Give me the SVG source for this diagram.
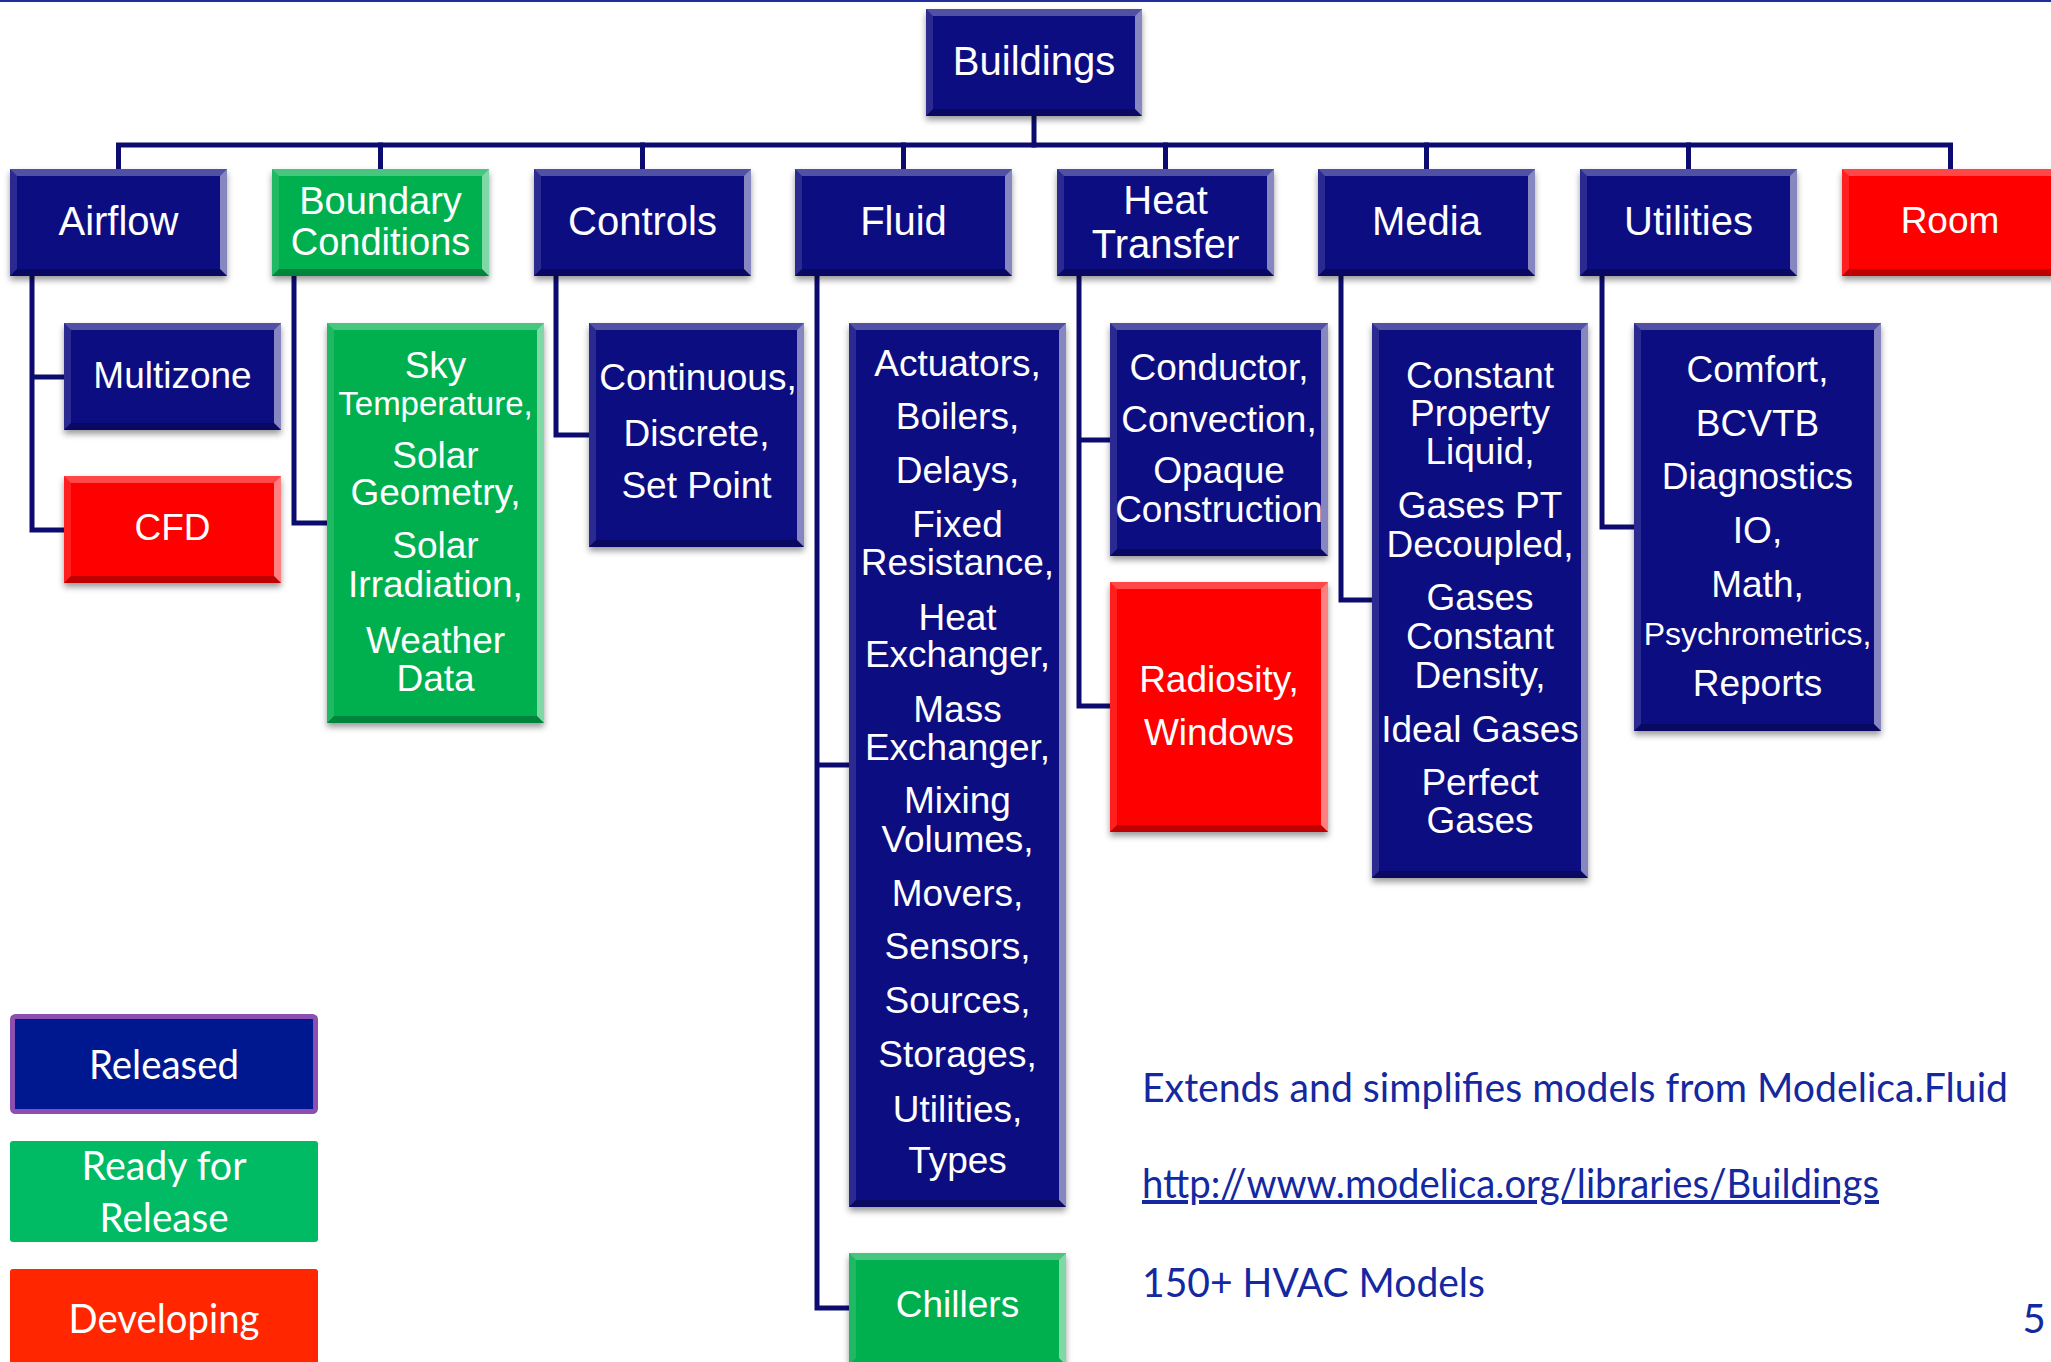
<svg xmlns="http://www.w3.org/2000/svg" width="2051" height="1362" viewBox="0 0 2051 1362">
  <style>
    .nv { fill: #0b0b82; }
    .gr { fill: #00b050; }
    .rd { fill: #ff0000; }
    .bt { fill: #ffffff; opacity: 0.28; }
    .bl { fill: #ffffff; opacity: 0.12; }
    .br { fill: #ffffff; opacity: 0.5; }
    .bb { fill: #000000; opacity: 0.25; }
    .lbl { font-family: "Liberation Sans", Arial, sans-serif; fill: #ffffff; text-anchor: middle; }
    .f40 { font-size: 40px; }
    .f38 { font-size: 38px; }
    .f37 { font-size: 37px; }
    .f33 { font-size: 33px; }
    .f32 { font-size: 32px; }
    .wire { fill: none; stroke: #0c0c70; stroke-width: 5; stroke-linejoin: miter; stroke-linecap: square; }
    .gill { font-family: Lato, "Open Sans", sans-serif; }
    .leg { fill: #ffffff; text-anchor: middle; font-size: 40px; }
    .note { fill: #1428a0; font-size: 40px; }
  </style>
  <defs>
    <filter id="sh" x="-10%" y="-10%" width="125%" height="130%">
      <feDropShadow dx="0" dy="4" stdDeviation="3" flood-color="#000000" flood-opacity="0.4"/>
    </filter>
    <!-- bevel overlay for the standard 217x107 box -->
    <g id="bev">
      <polygon class="bt" points="0,0 217,0 210,7 7,7"/>
      <polygon class="bl" points="0,0 7,7 7,100 0,107"/>
      <polygon class="br" points="217,0 217,107 210,100 210,7"/>
      <polygon class="bb" points="0,107 7,100 210,100 217,107"/>
    </g>
  </defs>

  <rect width="2051" height="1362" fill="#ffffff"/>
  <rect x="0" y="0" width="2051" height="2" fill="#1f2f9f"/>

  <!-- connectors -->
  <g id="connectors">
    <path class="wire" d="M1034,116 V145"/>
    <path class="wire" d="M118.5,169 V145 H1950.5 V169"/>
    <path class="wire" d="M380.5,145 V169 M642.5,145 V169 M903.5,145 V169 M1165.5,145 V169 M1426.5,145 V169 M1688.5,145 V169"/>
    <path class="wire" d="M32,276 V530 H64 M32,377 H64"/>
    <path class="wire" d="M294,276 V523 H327"/>
    <path class="wire" d="M556,276 V435 H589"/>
    <path class="wire" d="M817,276 V1308 H849 M817,765 H849"/>
    <path class="wire" d="M1079,276 V706 H1110 M1079,440 H1110"/>
    <path class="wire" d="M1341,276 V600 H1372"/>
    <path class="wire" d="M1602,276 V527 H1634"/>
  </g>

  <!-- root -->
  <g id="buildings" transform="translate(926,9)">
    <rect class="nv" width="216" height="107" filter="url(#sh)"/>
    <polygon class="bt" points="0,0 216,0 209,7 7,7"/>
    <polygon class="bl" points="0,0 7,7 7,100 0,107"/>
    <polygon class="br" points="216,0 216,107 209,100 209,7"/>
    <polygon class="bb" points="0,107 7,100 209,100 216,107"/>
    <text class="lbl f40" x="108" y="66">Buildings</text>
  </g>

  <!-- first level packages -->
  <g id="airflow" transform="translate(10,169)">
    <rect class="nv" width="217" height="107" filter="url(#sh)"/>
    <use href="#bev"/>
    <text class="lbl f40" x="108.5" y="66">Airflow</text>
  </g>
  <g id="boundary-conditions" transform="translate(272,169)">
    <rect class="gr" width="217" height="107" filter="url(#sh)"/>
    <use href="#bev"/>
    <text class="lbl f38" x="108.5" y="45">Boundary</text>
    <text class="lbl f38" x="108.5" y="86">Conditions</text>
  </g>
  <g id="controls" transform="translate(534,169)">
    <rect class="nv" width="217" height="107" filter="url(#sh)"/>
    <use href="#bev"/>
    <text class="lbl f40" x="108.5" y="66">Controls</text>
  </g>
  <g id="fluid" transform="translate(795,169)">
    <rect class="nv" width="217" height="107" filter="url(#sh)"/>
    <use href="#bev"/>
    <text class="lbl f40" x="108.5" y="66">Fluid</text>
  </g>
  <g id="heat-transfer" transform="translate(1057,169)">
    <rect class="nv" width="217" height="107" filter="url(#sh)"/>
    <use href="#bev"/>
    <text class="lbl f40" x="108.5" y="45">Heat</text>
    <text class="lbl f40" x="108.5" y="89">Transfer</text>
  </g>
  <g id="media" transform="translate(1318,169)">
    <rect class="nv" width="217" height="107" filter="url(#sh)"/>
    <use href="#bev"/>
    <text class="lbl f40" x="108.5" y="66">Media</text>
  </g>
  <g id="utilities" transform="translate(1580,169)">
    <rect class="nv" width="217" height="107" filter="url(#sh)"/>
    <use href="#bev"/>
    <text class="lbl f40" x="108.5" y="66">Utilities</text>
  </g>
  <g id="room" transform="translate(1842,169)">
    <rect class="rd" width="217" height="107" filter="url(#sh)"/>
    <use href="#bev"/>
    <text class="lbl f37" x="108" y="64">Room</text>
  </g>

  <!-- Airflow sub-packages -->
  <g id="multizone" transform="translate(64,323)">
    <rect class="nv" width="217" height="107" filter="url(#sh)"/>
    <use href="#bev"/>
    <text class="lbl f37" x="108.5" y="65">Multizone</text>
  </g>
  <g id="cfd" transform="translate(64,476)">
    <rect class="rd" width="217" height="107" filter="url(#sh)"/>
    <use href="#bev"/>
    <text class="lbl f37" x="108.5" y="64">CFD</text>
  </g>

  <!-- Boundary conditions content -->
  <g id="bc-content" transform="translate(327,323)">
    <rect class="gr" width="217" height="400" filter="url(#sh)"/>
    <polygon class="bt" points="0,0 217,0 210,7 7,7"/>
    <polygon class="bl" points="0,0 7,7 7,393 0,400"/>
    <polygon class="br" points="217,0 217,400 210,393 210,7"/>
    <polygon class="bb" points="0,400 7,393 210,393 217,400"/>
    <text class="lbl f37" x="108.5" y="55">Sky</text>
    <text class="lbl f33" x="108.5" y="92">Temperature,</text>
    <text class="lbl f37" x="108.5" y="145">Solar</text>
    <text class="lbl f37" x="108.5" y="182">Geometry,</text>
    <text class="lbl f37" x="108.5" y="235">Solar</text>
    <text class="lbl f37" x="108.5" y="274">Irradiation,</text>
    <text class="lbl f37" x="108.5" y="330">Weather</text>
    <text class="lbl f37" x="108.5" y="368">Data</text>
  </g>

  <!-- Controls content -->
  <g id="controls-content" transform="translate(589,323)">
    <rect class="nv" width="215" height="224" filter="url(#sh)"/>
    <polygon class="bt" points="0,0 215,0 208,7 7,7"/>
    <polygon class="bl" points="0,0 7,7 7,217 0,224"/>
    <polygon class="br" points="215,0 215,224 208,217 208,7"/>
    <polygon class="bb" points="0,224 7,217 208,217 215,224"/>
    <text class="lbl f37" x="109" y="67">Continuous,</text>
    <text class="lbl f37" x="107.5" y="123">Discrete,</text>
    <text class="lbl f37" x="107.5" y="175">Set Point</text>
  </g>

  <!-- Fluid content -->
  <g id="fluid-content" transform="translate(849,323)">
    <rect class="nv" width="217" height="884" filter="url(#sh)"/>
    <polygon class="bt" points="0,0 217,0 210,7 7,7"/>
    <polygon class="bl" points="0,0 7,7 7,877 0,884"/>
    <polygon class="br" points="217,0 217,884 210,877 210,7"/>
    <polygon class="bb" points="0,884 7,877 210,877 217,884"/>
    <text class="lbl f37" x="108.5" y="53">Actuators,</text>
    <text class="lbl f37" x="108.5" y="106">Boilers,</text>
    <text class="lbl f37" x="108.5" y="160">Delays,</text>
    <text class="lbl f37" x="108.5" y="214">Fixed</text>
    <text class="lbl f37" x="108.5" y="252">Resistance,</text>
    <text class="lbl f37" x="108.5" y="307">Heat</text>
    <text class="lbl f37" x="108.5" y="344">Exchanger,</text>
    <text class="lbl f37" x="108.5" y="399">Mass</text>
    <text class="lbl f37" x="108.5" y="437">Exchanger,</text>
    <text class="lbl f37" x="108.5" y="490">Mixing</text>
    <text class="lbl f37" x="108.5" y="529">Volumes,</text>
    <text class="lbl f37" x="108.5" y="583">Movers,</text>
    <text class="lbl f37" x="108.5" y="636">Sensors,</text>
    <text class="lbl f37" x="108.5" y="690">Sources,</text>
    <text class="lbl f37" x="108.5" y="744">Storages,</text>
    <text class="lbl f37" x="108.5" y="799">Utilities,</text>
    <text class="lbl f37" x="108.5" y="850">Types</text>
  </g>
  <g id="chillers" transform="translate(849,1253)">
    <rect class="gr" width="217" height="112" filter="url(#sh)"/>
    <polygon class="bt" points="0,0 217,0 210,7 7,7"/>
    <polygon class="bl" points="0,0 7,7 7,105 0,112"/>
    <polygon class="br" points="217,0 217,112 210,105 210,7"/>
    <text class="lbl f37" x="108.5" y="64">Chillers</text>
  </g>

  <!-- Heat transfer content -->
  <g id="ht-content" transform="translate(1110,323)">
    <rect class="nv" width="218" height="233" filter="url(#sh)"/>
    <polygon class="bt" points="0,0 218,0 211,7 7,7"/>
    <polygon class="bl" points="0,0 7,7 7,226 0,233"/>
    <polygon class="br" points="218,0 218,233 211,226 211,7"/>
    <polygon class="bb" points="0,233 7,226 211,226 218,233"/>
    <text class="lbl f37" x="109" y="57">Conductor,</text>
    <text class="lbl f37" x="109" y="109">Convection,</text>
    <text class="lbl f37" x="109" y="160">Opaque</text>
    <text class="lbl f37" x="109" y="199">Construction</text>
  </g>
  <g id="radiosity" transform="translate(1110,582)">
    <rect class="rd" width="218" height="250" filter="url(#sh)"/>
    <polygon class="bt" points="0,0 218,0 211,7 7,7"/>
    <polygon class="bl" points="0,0 7,7 7,243 0,250"/>
    <polygon class="br" points="218,0 218,250 211,243 211,7"/>
    <polygon class="bb" points="0,250 7,243 211,243 218,250"/>
    <text class="lbl f37" x="109" y="110">Radiosity,</text>
    <text class="lbl f37" x="109" y="163">Windows</text>
  </g>

  <!-- Media content -->
  <g id="media-content" transform="translate(1372,323)">
    <rect class="nv" width="216" height="555" filter="url(#sh)"/>
    <polygon class="bt" points="0,0 216,0 209,7 7,7"/>
    <polygon class="bl" points="0,0 7,7 7,548 0,555"/>
    <polygon class="br" points="216,0 216,555 209,548 209,7"/>
    <polygon class="bb" points="0,555 7,548 209,548 216,555"/>
    <text class="lbl f37" x="108" y="65">Constant</text>
    <text class="lbl f37" x="108" y="103">Property</text>
    <text class="lbl f37" x="108" y="141">Liquid,</text>
    <text class="lbl f37" x="108" y="195">Gases PT</text>
    <text class="lbl f37" x="108" y="234">Decoupled,</text>
    <text class="lbl f37" x="108" y="287">Gases</text>
    <text class="lbl f37" x="108" y="326">Constant</text>
    <text class="lbl f37" x="108" y="365">Density,</text>
    <text class="lbl f37" x="108" y="419">Ideal Gases</text>
    <text class="lbl f37" x="108" y="472">Perfect</text>
    <text class="lbl f37" x="108" y="510">Gases</text>
  </g>

  <!-- Utilities content -->
  <g id="util-content" transform="translate(1634,323)">
    <rect class="nv" width="247" height="408" filter="url(#sh)"/>
    <polygon class="bt" points="0,0 247,0 240,7 7,7"/>
    <polygon class="bl" points="0,0 7,7 7,401 0,408"/>
    <polygon class="br" points="247,0 247,408 240,401 240,7"/>
    <polygon class="bb" points="0,408 7,401 240,401 247,408"/>
    <text class="lbl f37" x="123.5" y="59">Comfort,</text>
    <text class="lbl f37" x="123.5" y="113">BCVTB</text>
    <text class="lbl f37" x="123.5" y="166">Diagnostics</text>
    <text class="lbl f37" x="123.5" y="220">IO,</text>
    <text class="lbl f37" x="123.5" y="274">Math,</text>
    <text class="lbl f32" x="123.5" y="322">Psychrometrics,</text>
    <text class="lbl f37" x="123.5" y="373">Reports</text>
  </g>

  <!-- legend -->
  <g id="legend-released">
    <rect x="12.5" y="1016.5" width="303" height="95" rx="3" fill="#00188f" stroke="#8a4fb0" stroke-width="5"/>
    <text class="gill leg" x="164" y="1079" textLength="150" lengthAdjust="spacingAndGlyphs">Released</text>
  </g>
  <g id="legend-ready">
    <rect x="10" y="1141" width="308" height="101" rx="3" fill="#00bb64"/>
    <text class="gill leg" x="164" y="1180" textLength="165" lengthAdjust="spacingAndGlyphs">Ready for</text>
    <text class="gill leg" x="164" y="1232" textLength="129" lengthAdjust="spacingAndGlyphs">Release</text>
  </g>
  <g id="legend-developing">
    <rect x="10" y="1269" width="308" height="100" rx="3" fill="#ff2600"/>
    <text class="gill leg" x="164" y="1333" textLength="191" lengthAdjust="spacingAndGlyphs">Developing</text>
  </g>

  <!-- notes -->
  <g id="notes">
    <text class="gill note" x="1142" y="1102" textLength="866" lengthAdjust="spacingAndGlyphs">Extends and simplifies models from Modelica.Fluid</text>
    <text class="gill note" x="1142" y="1198" textLength="737" lengthAdjust="spacingAndGlyphs" text-decoration="underline">http://www.modelica.org/libraries/Buildings</text>
    <text class="gill note" x="1142" y="1297" textLength="343" lengthAdjust="spacingAndGlyphs">150+ HVAC Models</text>
    <text class="gill note" x="2034" y="1333" text-anchor="middle" font-size="32">5</text>
  </g>
</svg>
